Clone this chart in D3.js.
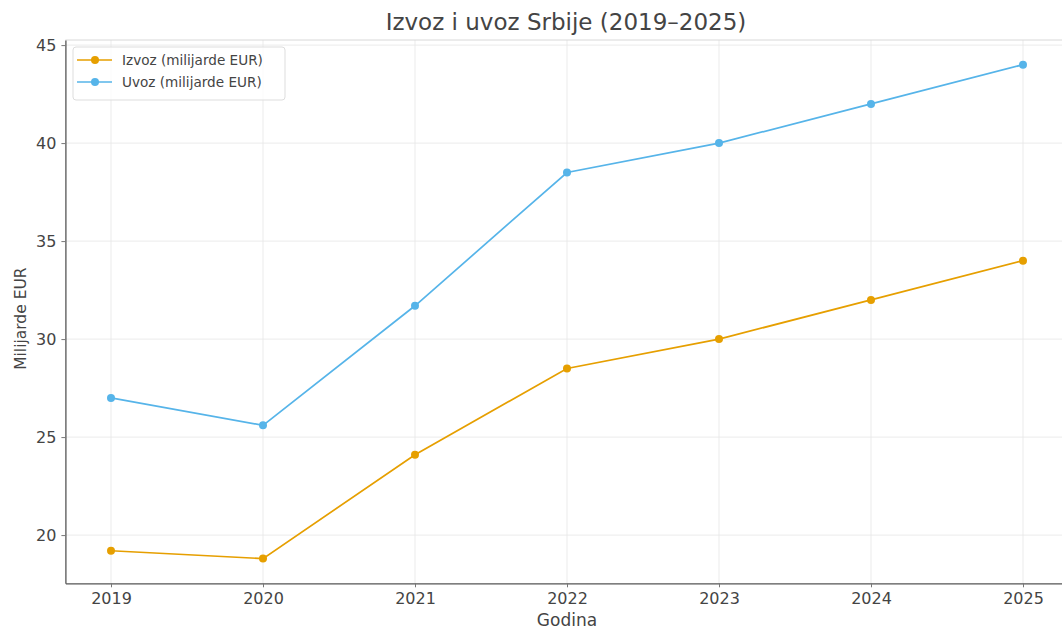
<!DOCTYPE html>
<html><head><meta charset="utf-8">
<script src="https://cdn.jsdelivr.net/npm/d3@7"></script>
<style>
body{margin:0;background:#fff;}
text{font-family:"DejaVu Sans",sans-serif;}
</style></head>
<body><svg id="c" width="1062" height="630"></svg>
<script>
const years = [2019, 2020, 2021, 2022, 2023, 2024, 2025];
const izvoz = [19.2, 18.8, 24.1, 28.5, 30.0, 32.0, 34.0];
const uvoz = [27.0, 25.6, 31.7, 38.5, 40.0, 42.0, 44.0];
const yTicks = [20, 25, 30, 35, 40, 45];
const seriesNames = ["Izvoz (milijarde EUR)", "Uvoz (milijarde EUR)"];
const colors = ["#E69F00", "#56B4E9"];

const svg = d3.select("#c");
const L = 65.4, R = 1068.6, T = 40, B = 583.3;
const x = d3.scaleLinear().domain([2018.7, 2025.3]).range([L, R]);
const y = d3.scaleLinear().domain([17.54, 45.26]).range([B, T]);

// grid
svg.append("g").selectAll("line").data(years).join("line")
  .attr("x1", d => x(d)).attr("x2", d => x(d)).attr("y1", T).attr("y2", B)
  .attr("stroke", "#e6e6e6").attr("stroke-width", 0.8);
svg.append("g").selectAll("line").data(yTicks).join("line")
  .attr("x1", L).attr("x2", R).attr("y1", d => y(d)).attr("y2", d => y(d))
  .attr("stroke", "#e6e6e6").attr("stroke-width", 0.8);

// top spine (faint)
svg.append("line").attr("x1", L).attr("x2", R).attr("y1", T).attr("y2", T).attr("stroke", "#d8d8d8").attr("stroke-width", 1);

// axes
const xAxis = svg.append("g").attr("transform", `translate(0,${B})`)
  .call(d3.axisBottom(x).tickValues(years).tickFormat(d3.format("d")).tickSize(4).tickSizeOuter(0).tickPadding(5));
const yAxis = svg.append("g").attr("transform", `translate(${L},0)`)
  .call(d3.axisLeft(y).tickValues(yTicks).tickSize(4).tickSizeOuter(0).tickPadding(5));
[xAxis, yAxis].forEach(a => {
  a.select(".domain").attr("stroke", "#555").attr("stroke-width", 1.3);
  a.selectAll(".tick line").attr("stroke", "#777");
  a.selectAll(".tick text").attr("fill", "#444").style("font-size", "16px");
});

// lines
const line = d3.line().x((d, i) => x(years[i])).y(d => y(d));
[izvoz, uvoz].forEach((s, k) => {
  svg.append("path").datum(s).attr("d", line).attr("fill", "none")
    .attr("stroke", colors[k]).attr("stroke-width", 1.7);
  svg.append("g").selectAll("circle").data(s).join("circle")
    .attr("cx", (d, i) => x(years[i])).attr("cy", d => y(d)).attr("r", 4)
    .attr("fill", colors[k]);
});

// title & labels
svg.append("text").attr("x", 566).attr("y", 30).attr("text-anchor", "middle")
  .style("font-size", "23px").attr("fill", "#444").text("Izvoz i uvoz Srbije (2019–2025)");
svg.append("text").attr("x", 567).attr("y", 626).attr("text-anchor", "middle")
  .style("font-size", "17px").attr("fill", "#444").text("Godina");
svg.append("text").attr("transform", `translate(26,${(T + B) / 2 + 7}) rotate(-90)`).attr("text-anchor", "middle")
  .style("font-size", "15.5px").attr("fill", "#444").text("Milijarde EUR");

// legend
const lg = svg.append("g").attr("transform", "translate(73,47)");
lg.append("rect").attr("width", 212).attr("height", 53).attr("rx", 3)
  .attr("fill", "#fff").attr("fill-opacity", 0.8).attr("stroke", "#ddd");
seriesNames.forEach((n, k) => {
  const yy = 13 + k * 22;
  lg.append("line").attr("x1", 4).attr("x2", 39).attr("y1", yy).attr("y2", yy)
    .attr("stroke", colors[k]).attr("stroke-width", 1.7);
  lg.append("circle").attr("cx", 22).attr("cy", yy).attr("r", 4).attr("fill", colors[k]);
  lg.append("text").attr("x", 49).attr("y", yy + 5).style("font-size", "13.6px")
    .attr("fill", "#444").text(n);
});
</script></body></html>
